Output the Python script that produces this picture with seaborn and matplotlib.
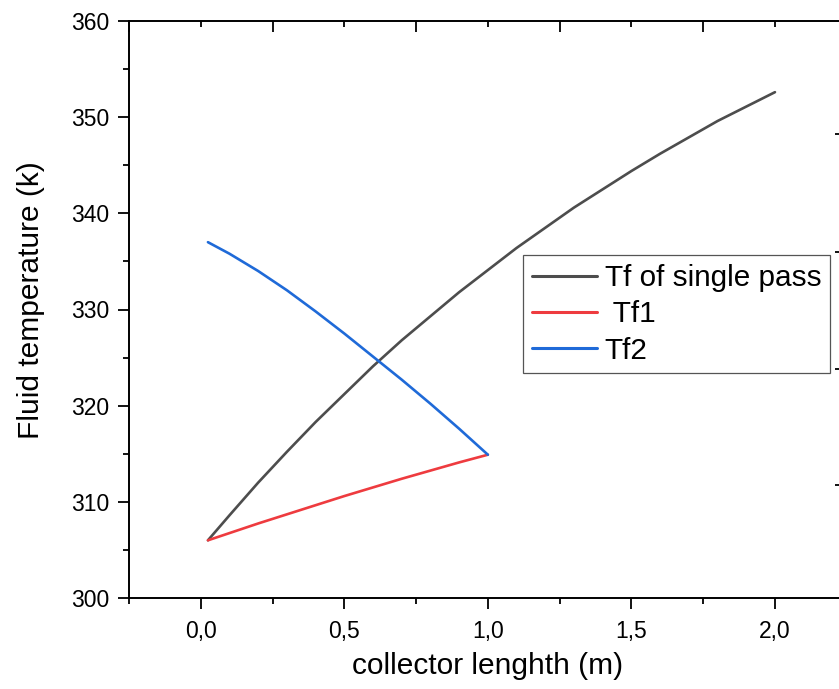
import matplotlib
matplotlib.use("Agg")
import matplotlib.pyplot as plt
import seaborn as sns
import pandas as pd

# ---- data ----
x_single = [0.025, 0.1, 0.2, 0.3, 0.4, 0.5, 0.6, 0.7, 0.8, 0.9, 1.0,
            1.1, 1.2, 1.3, 1.4, 1.5, 1.6, 1.7, 1.8, 1.9, 2.0]
tf_single = [306.0, 308.6, 312.0, 315.2, 318.3, 321.2, 324.1, 326.8, 329.3, 331.8, 334.1,
             336.4, 338.5, 340.6, 342.5, 344.4, 346.2, 347.9, 349.6, 351.1, 352.6]

x_double = [0.025, 0.1, 0.2, 0.3, 0.4, 0.5, 0.6, 0.7, 0.8, 0.9, 1.0]
tf1 = [306.0, 306.75, 307.75, 308.7, 309.65, 310.6, 311.5, 312.4, 313.25, 314.1, 314.9]
tf2 = [337.0, 335.8, 334.0, 332.0, 329.8, 327.5, 325.1, 322.7, 320.2, 317.6, 314.9]

series_labels = ["Tf of single pass", " Tf1", "Tf2"]
series_colors = ["#4d4d4d", "#ee3b3f", "#1f6ad8"]

x_ticks = [0.0, 0.5, 1.0, 1.5, 2.0]
x_tick_labels = ["0,0", "0,5", "1,0", "1,5", "2,0"]
x_minor = [-0.25, 0.25, 0.75, 1.25, 1.75]
top_major = [-0.25, 0.25, 0.75, 1.25, 1.75]
top_minor = [0.0, 0.5, 1.0, 1.5, 2.0]
y_ticks = [300, 310, 320, 330, 340, 350, 360]
y_minor = [305, 315, 325, 335, 345, 355]
right_ticks = [311.7, 323.8, 336.0, 348.2]

x_label = "collector lenghth (m)"
y_label = "Fluid temperature (k)"

# ---- style ----
sns.set_style("ticks")
plt.rcParams["font.family"] = ["Liberation Sans", "DejaVu Sans"]
plt.rcParams["text.color"] = "black"
plt.rcParams["axes.labelcolor"] = "black"

fig = plt.figure(figsize=(8.39, 6.89), dpi=100)
ax = fig.add_axes([129 / 839, 91 / 689, 712 / 839, 577 / 689])

df_s = pd.DataFrame({"x": x_single, "y": tf_single})
df_1 = pd.DataFrame({"x": x_double, "y": tf1})
df_2 = pd.DataFrame({"x": x_double, "y": tf2})
for df, lab, col in zip([df_s, df_1, df_2], series_labels, series_colors):
    sns.lineplot(data=df, x="x", y="y", ax=ax, color=col, label=lab,
                 linewidth=1.9, sort=False, estimator=None)

ax.set_xlim(-0.25, 2.23)
ax.set_ylim(300, 360)

# top axis ticks (inward)
axt = ax.twiny()
axt.set_xlim(-0.25, 2.23)
axt.set_xticks(top_major)
axt.set_xticks(top_minor, minor=True)
axt.tick_params(axis="x", which="major", direction="in", length=8, width=1.3,
                labeltop=False, color="black")
axt.tick_params(axis="x", which="minor", direction="in", length=4, width=1.3,
                color="black")
for s in axt.spines.values():
    s.set_visible(False)

# right-side short ticks (inward)
axr = ax.twinx()
axr.set_ylim(300, 360)
axr.set_yticks(right_ticks)
axr.tick_params(axis="y", which="major", direction="in", length=4.5, width=1.3,
                labelright=False, color="black")
for s in axr.spines.values():
    s.set_visible(False)

ax.set_xticks(x_ticks, x_tick_labels)
ax.set_xticks(x_minor, minor=True)
ax.set_yticks(y_ticks, [str(v) for v in y_ticks])
ax.set_yticks(y_minor, minor=True)

ax.tick_params(axis="both", which="major", direction="out", length=8, width=1.3,
               labelsize=16.5, color="black", labelcolor="black", pad=6,
               bottom=True, left=True, labelbottom=True, labelleft=True)
ax.tick_params(axis="both", which="minor", direction="out", length=4.5, width=1.3,
               color="black", bottom=True, left=True)
ax.tick_params(axis="x", which="major", pad=8)

for side in ["left", "bottom", "top"]:
    ax.spines[side].set_visible(True)
    ax.spines[side].set_linewidth(1.4)
    ax.spines[side].set_color("black")
ax.spines["right"].set_visible(False)

ax.set_xlabel(x_label, fontsize=21.5, color="black")
ax.set_ylabel(y_label, fontsize=21.5, color="black")
ax.xaxis.set_label_coords(0.503, -0.093)
ax.yaxis.set_label_coords(-0.118, 0.516)

leg = ax.legend(loc="upper left", bbox_to_anchor=(523 / 839, 1 - 255 / 689),
                bbox_transform=fig.transFigure, borderaxespad=0,
                fontsize=21.4, frameon=True, fancybox=False, framealpha=1,
                edgecolor="#555555", handlelength=2.2, handletextpad=0.25,
                labelspacing=0.28, borderpad=0.3)
leg.get_frame().set_linewidth(0.9)
for t in leg.get_texts():
    t.set_color("black")
for line in leg.get_lines():
    line.set_linewidth(2.2)

fig.savefig("out.png", dpi=100)
